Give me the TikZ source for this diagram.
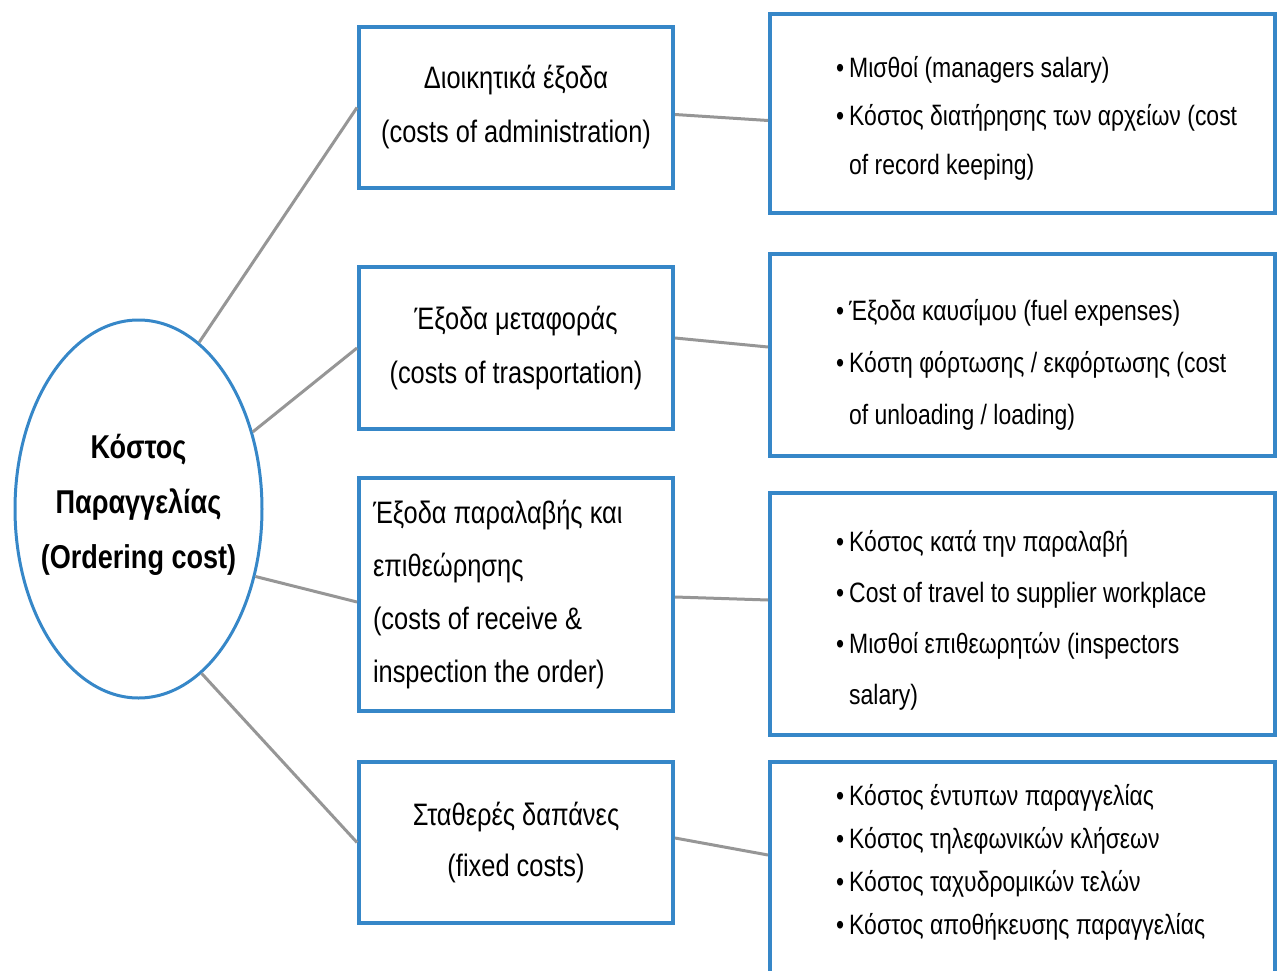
\documentclass[tikz,border=0pt]{standalone}
\usepackage{fontspec}
\setmainfont[FakeStretch=0.82]{Liberation Sans}
\usetikzlibrary{shapes.geometric}
\definecolor{boxblue}{RGB}{54,135,200}
\definecolor{linegray}{RGB}{150,150,150}
\newcommand{\bul}{\makebox[13pt][l]{•}}
\newcommand{\ind}{\hspace*{13pt}}

\begin{document}
\begin{tikzpicture}[x=1pt, y=-1pt,
    midbox/.style={rectangle, draw=boxblue, line width=4pt, minimum width=314pt, inner sep=0pt, align=center, font={\fontsize{31}{54}\selectfont}},
    sidebox/.style={rectangle, draw=boxblue, line width=4pt, minimum width=505pt, inner sep=0pt},
    sidetext/.style={anchor=west, align=left, inner sep=0pt, font={\fontsize{28}{50}\selectfont}},
    link/.style={draw=linegray, line width=3pt}]
    \useasboundingbox (0,0) rectangle (1283,971);

    % centre
    \node[ellipse, draw=boxblue, line width=3pt, minimum width=247pt, minimum height=378pt, inner sep=0pt] (root) at (138.5,509) {};
    \node[align=center, inner sep=0pt, font={\bfseries\fontsize{33}{55}\selectfont}] (roottext) at (138.5,505) {Κόστος\\Παραγγελίας\\(Ordering cost)};

    % middle column
    \node[midbox, minimum height=161pt] (m1) at (516,107.5) {Διοικητικά έξοδα\\(costs of administration)};
    \node[midbox, minimum height=162pt] (m2) at (516,348) {Έξοδα μεταφοράς\\(costs of trasportation)};
    \node[midbox, minimum height=233pt, align=flush left, text width=286pt, font={\fontsize{31}{53}\selectfont}] (m3) at (516,594.5) {Έξοδα παραλαβής και\\επιθεώρησης\\(costs of receive \&\\inspection the order)};
    \node[midbox, minimum height=161pt, font={\fontsize{31}{51}\selectfont}] (m4) at (516,842.5) {Σταθερές δαπάνες\\(fixed costs)};

    % right column
    \node[sidebox, minimum height=199pt] (r1) at (1022.5,113.5) {};
    \node[sidebox, minimum height=202pt] (r2) at (1022.5,355) {};
    \node[sidebox, minimum height=242pt] (r3) at (1022.5,614) {};
    \node[sidebox, minimum height=228pt] (r4) at (1022.5,876) {};

    \node[sidetext, font={\fontsize{28}{48.5}\selectfont}] (r1t) at (836,118) {\bul Μισθοί (managers salary)\\\bul Κόστος διατήρησης των αρχείων (cost\\\ind of record keeping)};
    \node[sidetext, font={\fontsize{28}{52}\selectfont}] (r2t) at (836,365) {\bul Έξοδα καυσίμου (fuel expenses)\\\bul Κόστη φόρτωσης / εκφόρτωσης (cost\\\ind of unloading / loading)};
    \node[sidetext, font={\fontsize{28}{51}\selectfont}] (r3t) at (836,620) {\bul Κόστος κατά την παραλαβή\\\bul Cost of travel to supplier workplace\\\bul Μισθοί επιθεωρητών (inspectors\\\ind salary)};
    \node[sidetext, font={\fontsize{28}{43}\selectfont}] (r4t) at (836,862) {\bul Κόστος έντυπων παραγγελίας\\\bul Κόστος τηλεφωνικών κλήσεων\\\bul Κόστος ταχυδρομικών τελών\\\bul Κόστος αποθήκευσης παραγγελίας};

    % connectors
    \draw[link] (root.70.6) -- (m1.west);
    \draw[link] (root.34.8) -- (m2.west);
    \draw[link] (root.-30.7) -- ([yshift=-7.5pt]m3.west);
    \draw[link] (root.-69) -- (m4.west);
    \draw[link] ([yshift=-7pt]m1.east) -- ([yshift=-7pt]r1.west);
    \draw[link] ([yshift=10pt]m2.east) -- ([yshift=8pt]r2.west);
    \draw[link] ([yshift=-2.5pt]m3.east) -- ([yshift=14pt]r3.west);
    \draw[link] ([yshift=4.5pt]m4.east) -- ([yshift=21pt]r4.west);
\end{tikzpicture}
\end{document}
